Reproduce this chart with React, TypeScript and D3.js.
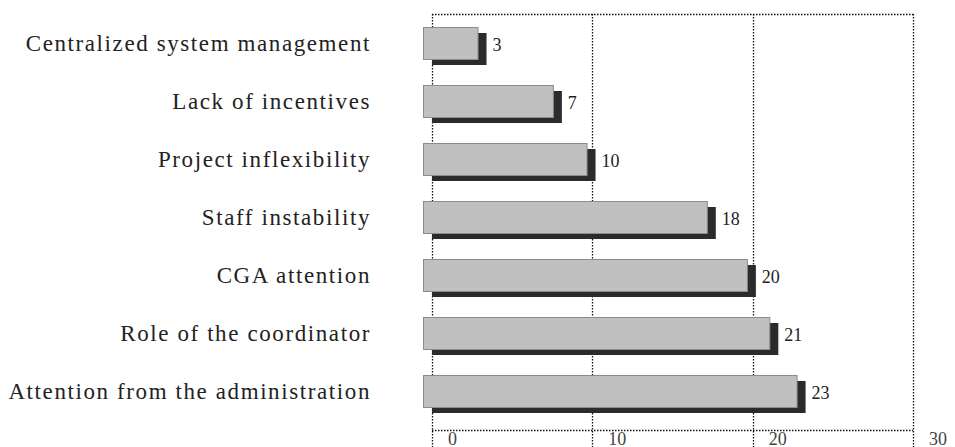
import { useEffect, useRef } from "react";
import * as d3 from "d3";

const categories = [
  "Centralized system management",
  "Lack of incentives",
  "Project inflexibility",
  "Staff instability",
  "CGA attention",
  "Role of the coordinator",
  "Attention from the administration",
];
// bar lengths as drawn in the picture
const values = [3.4, 8.1, 10.2, 17.7, 20.2, 21.6, 23.3];
// printed value labels
const valueLabels = ["3", "7", "10", "18", "20", "21", "23"];
const xTicks = [0, 10, 20, 30];

const width = 955;
const height = 447;

export default function App() {
  const ref = useRef<SVGSVGElement>(null);

  useEffect(() => {
    if (!ref.current) return;
    const svg = d3.select(ref.current);
    svg.selectAll("*").remove();

    const left = 432;
    const right = 913;
    const top = 14;
    const bottom = 430;

    const x = d3.scaleLinear().domain([0, 30]).range([left, right]);
    const y = d3
      .scaleBand<string>()
      .domain(categories)
      .range([top, 420])
      .paddingInner(0);

    const dot = "1.5,1.5";
    const grid = svg.append("g").attr("stroke", "#111").attr("stroke-width", 1.3);

    // frame and gridlines
    grid
      .append("line")
      .attr("x1", left)
      .attr("x2", right)
      .attr("y1", top + 0.5)
      .attr("y2", top + 0.5)
      .attr("stroke-dasharray", dot);
    grid
      .append("line")
      .attr("x1", left)
      .attr("x2", right)
      .attr("y1", bottom + 0.5)
      .attr("y2", bottom + 0.5)
      .attr("stroke-dasharray", dot);
    grid
      .selectAll("line.v")
      .data(xTicks)
      .join("line")
      .attr("class", "v")
      .attr("x1", (d) => Math.round(x(d)) + 0.5)
      .attr("x2", (d) => Math.round(x(d)) + 0.5)
      .attr("y1", top)
      .attr("y2", height)
      .attr("stroke-dasharray", dot);

    // tick labels
    svg
      .append("g")
      .selectAll("text")
      .data(xTicks)
      .join("text")
      .attr("x", (d) => x(d) + 16)
      .attr("y", 445)
      .attr("font-family", "Liberation Serif, serif")
      .attr("font-size", 18)
      .attr("fill", "#444")
      .text((d) => String(d));

    const dx = 9;
    const dy = 6;
    const barH = 32;

    const bars = svg
      .append("g")
      .selectAll("g")
      .data(values)
      .join("g");

    // dark shadow (true bar extent)
    bars
      .append("rect")
      .attr("x", x(0))
      .attr("y", (_, i) => y(categories[i])! + y.bandwidth() / 2 - barH / 2 + dy)
      .attr("width", (d) => x(d) - x(0))
      .attr("height", barH)
      .attr("fill", "#2b2b2b");

    // light front face
    bars
      .append("rect")
      .attr("x", x(0) - dx + 0.5)
      .attr("y", (_, i) => y(categories[i])! + y.bandwidth() / 2 - barH / 2 + 0.5)
      .attr("width", (d) => x(d) - x(0))
      .attr("height", barH)
      .attr("fill", "#c0c0c0")
      .attr("stroke", "#8c8c8c")
      .attr("stroke-width", 1);

    // value labels
    bars
      .append("text")
      .attr("x", (d) => x(d) + 6)
      .attr("y", (_, i) => y(categories[i])! + y.bandwidth() / 2 + 8)
      .attr("font-family", "Liberation Serif, serif")
      .attr("font-size", 18)
      .attr("fill", "#222")
      .text((_, i) => valueLabels[i]);

    // category labels
    svg
      .append("g")
      .selectAll("text")
      .data(categories)
      .join("text")
      .attr("x", 371)
      .attr("y", (d) => y(d)! + y.bandwidth() / 2 + 8)
      .attr("text-anchor", "end")
      .attr("font-family", "Liberation Serif, serif")
      .attr("font-size", 23)
      .attr("letter-spacing", 1.6)
      .attr("fill", "#222")
      .text((d) => d);
  }, []);

  return (
    <svg
      ref={ref}
      width={width}
      height={height}
      style={{ position: "absolute", left: 0, top: 0, background: "#fff" }}
    />
  );
}
